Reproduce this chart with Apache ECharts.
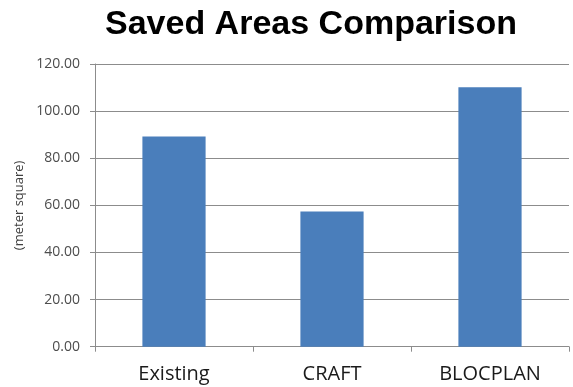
<!DOCTYPE html>
<html>
<head>
<meta charset="utf-8">
<script src="https://cdn.jsdelivr.net/npm/echarts@6/dist/echarts.min.js"></script>
<style>
  html, body { margin: 0; padding: 0; background: #fff; }
  #chart { width: 573px; height: 387px; }
</style>
</head>
<body>
<div id="chart"></div>
<script>
// Saved area per layout method
const methods = ['Existing', 'CRAFT', 'BLOCPLAN'];
const savedArea = [89.2, 57.4, 110.1];
const axisTitle = '(meter square)';
const chartTitle = 'Saved Areas Comparison';

const chart = echarts.init(document.getElementById('chart'), null, { renderer: 'canvas' });

chart.setOption({
  animation: false,
  backgroundColor: '#ffffff',
  title: {
    text: chartTitle,
    left: 100,
    top: 3,
    textStyle: {
      fontFamily: 'Liberation Sans',
      fontWeight: 'bold',
      fontSize: 34,
      color: '#000000'
    }
  },
  grid: { left: 95, right: 4, top: 64, bottom: 40.3, containLabel: false },
  xAxis: {
    type: 'category',
    data: methods,
    axisLine: { show: true, lineStyle: { color: '#8c8c8c', width: 1 } },
    axisTick: { show: true, alignWithLabel: false, length: 5, lineStyle: { color: '#8c8c8c' } },
    axisLabel: {
      margin: 18,
      fontFamily: 'Open Sans',
      fontSize: 20,
      color: '#1a1a1a'
    }
  },
  yAxis: {
    type: 'value',
    min: 0,
    max: 120,
    interval: 20,
    name: axisTitle,
    nameLocation: 'middle',
    nameGap: 68,
    nameTextStyle: { fontFamily: 'Open Sans', fontSize: 13, color: '#404040' },
    axisLine: { show: true, lineStyle: { color: '#8c8c8c', width: 1 } },
    axisTick: { show: true, length: 5, lineStyle: { color: '#8c8c8c' } },
    splitLine: { show: true, lineStyle: { color: '#8c8c8c', width: 1 } },
    axisLabel: {
      margin: 15,
      fontFamily: 'Open Sans',
      fontSize: 14,
      color: '#4d4d4d',
      formatter: v => v.toFixed(2)
    }
  },
  series: [{
    type: 'bar',
    data: savedArea,
    barWidth: '40%',
    itemStyle: { color: '#4a7ebb' }
  }]
});
</script>
</body>
</html>
